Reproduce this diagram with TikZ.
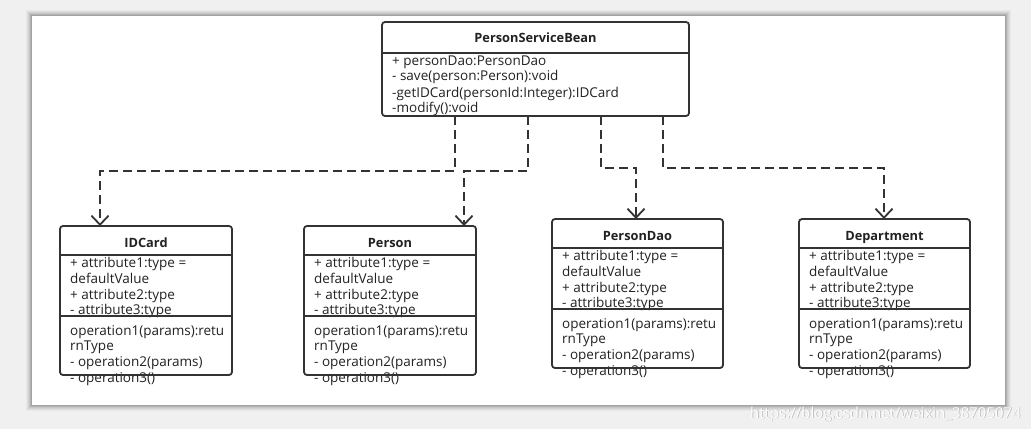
\documentclass[tikz,border=0pt]{standalone}
\usepackage{fontspec}
\setmainfont{Open Sans}
\usetikzlibrary{arrows.meta}
\definecolor{ln}{HTML}{333333}
\definecolor{bg}{HTML}{F0F0F0}
\definecolor{tx}{HTML}{222222}
\tikzset{
  x=1pt, y=-1pt,
  boxfill/.style={fill=white, draw=none, rounded corners=3pt, inner sep=0pt, outer sep=0pt},
  boxline/.style={draw=ln, line width=1.8pt, rounded corners=3pt},
  sepline/.style={draw=ln, line width=1.8pt},
  txt/.style={anchor=base west, inner sep=0pt, text=tx, font=\fontsize{13.5}{14}\selectfont},
  hdr/.style={anchor=base, inner sep=0pt, text=tx, font=\fontsize{12.8}{13}\selectfont\bfseries},
  dep/.style={draw=ln, line width=1.8pt, dash pattern=on 9pt off 5pt,
    -{Straight Barb[length=9pt,width=17pt,line width=1.8pt]}},
}
\newcommand\umlclass[4]{%
  \node[boxfill, minimum width=#2pt, minimum height=149pt, anchor=north west] (#1) at (#3) {};
  \node[hdr] (#1-t) at ([xshift=#2pt/2, yshift=-21pt]#1.north west) {#4};
  \node[txt] (#1-a1) at ([xshift=10pt, yshift=-41pt]#1.north west) {+ attribute1:type =};
  \node[txt] (#1-a2) at ([xshift=10pt, yshift=-57pt]#1.north west) {defaultValue};
  \node[txt] (#1-a3) at ([xshift=10pt, yshift=-73pt]#1.north west) {+ attribute2:type};
  \node[txt] (#1-a4) at ([xshift=10pt, yshift=-88pt]#1.north west) {- attribute3:type};
  \node[txt] (#1-o1) at ([xshift=10pt, yshift=-109pt]#1.north west) {operation1(params):retu};
  \node[txt] (#1-o2) at ([xshift=10pt, yshift=-124pt]#1.north west) {rnType};
  \node[txt] (#1-o3) at ([xshift=10pt, yshift=-140pt]#1.north west) {- operation2(params)};
  \node[txt] (#1-o4) at ([xshift=10pt, yshift=-156pt]#1.north west) {- operation3()};
  \draw[sepline] ([yshift=-29pt]#1.north west) -- ([yshift=-29pt]#1.north east);
  \draw[sepline] ([yshift=-90pt]#1.north west) -- ([yshift=-90pt]#1.north east);
  \draw[boxline] (#1.north west) rectangle (#1.south east);
}
\begin{document}
\begin{tikzpicture}
\useasboundingbox (0,0) rectangle (1031,429);
\fill[bg] (0,0) rectangle (1031,429);
% panel shadow
\foreach \d/\o in {6/0.03,5/0.04,4/0.05,3/0.06,2/0.08,1/0.10}{
  \fill[black, opacity=\o] (32-\d,16-\d) rectangle (1005+\d,405+\d);
}
\fill[white] (32,16) rectangle (1005,405);

% PersonServiceBean
\node[boxfill, minimum width=307pt, minimum height=94pt, anchor=north west] (psb) at (382,22) {};
\node[hdr] (psb-t) at ([xshift=153.5pt, yshift=-20pt]psb.north west) {PersonServiceBean};
\node[txt] (psb-a1) at ([xshift=10pt, yshift=-43pt]psb.north west) {+ personDao:PersonDao};
\node[txt] (psb-a2) at ([xshift=10pt, yshift=-58pt]psb.north west) {- save(person:Person):void};
\node[txt] (psb-a3) at ([xshift=10pt, yshift=-75pt]psb.north west) {-getIDCard(personId:Integer):IDCard};
\node[txt] (psb-a4) at ([xshift=10pt, yshift=-90pt]psb.north west) {-modify():void};
\draw[sepline] ([yshift=-31pt]psb.north west) -- ([yshift=-31pt]psb.north east);
\draw[boxline] (psb.north west) rectangle (psb.south east);

\umlclass{idcard}{172}{60,226}{IDCard}
\umlclass{person}{172}{304,226}{Person}
\umlclass{dao}{171}{552,219}{PersonDao}
\umlclass{dept}{171}{799,219}{Department}

% dependencies
\draw[dep] ([xshift=73pt]psb.south west) -- ++(0,55) -| ([xshift=40pt]idcard.north west);
\draw[dep] ([xshift=146pt]psb.south west) -- ++(0,55) -| ([xshift=160pt]person.north west);
\draw[dep] ([xshift=219pt]psb.south west) -- ++(0,52) -| ([xshift=84pt]dao.north west);
\draw[dep] ([xshift=281pt]psb.south west) -- ++(0,52) -| ([xshift=85pt]dept.north west);

% watermark
\node[anchor=base west, inner sep=0pt, text=black!30, font=\fontsize{15}{15}\selectfont] (wm-s) at (750.7,418.7) {https://blog.csdn.net/weixin\_38705074};
\node[anchor=base west, inner sep=0pt, text=white, font=\fontsize{15}{15}\selectfont] (wm) at (750,418) {https://blog.csdn.net/weixin\_38705074};
\end{tikzpicture}
\end{document}
